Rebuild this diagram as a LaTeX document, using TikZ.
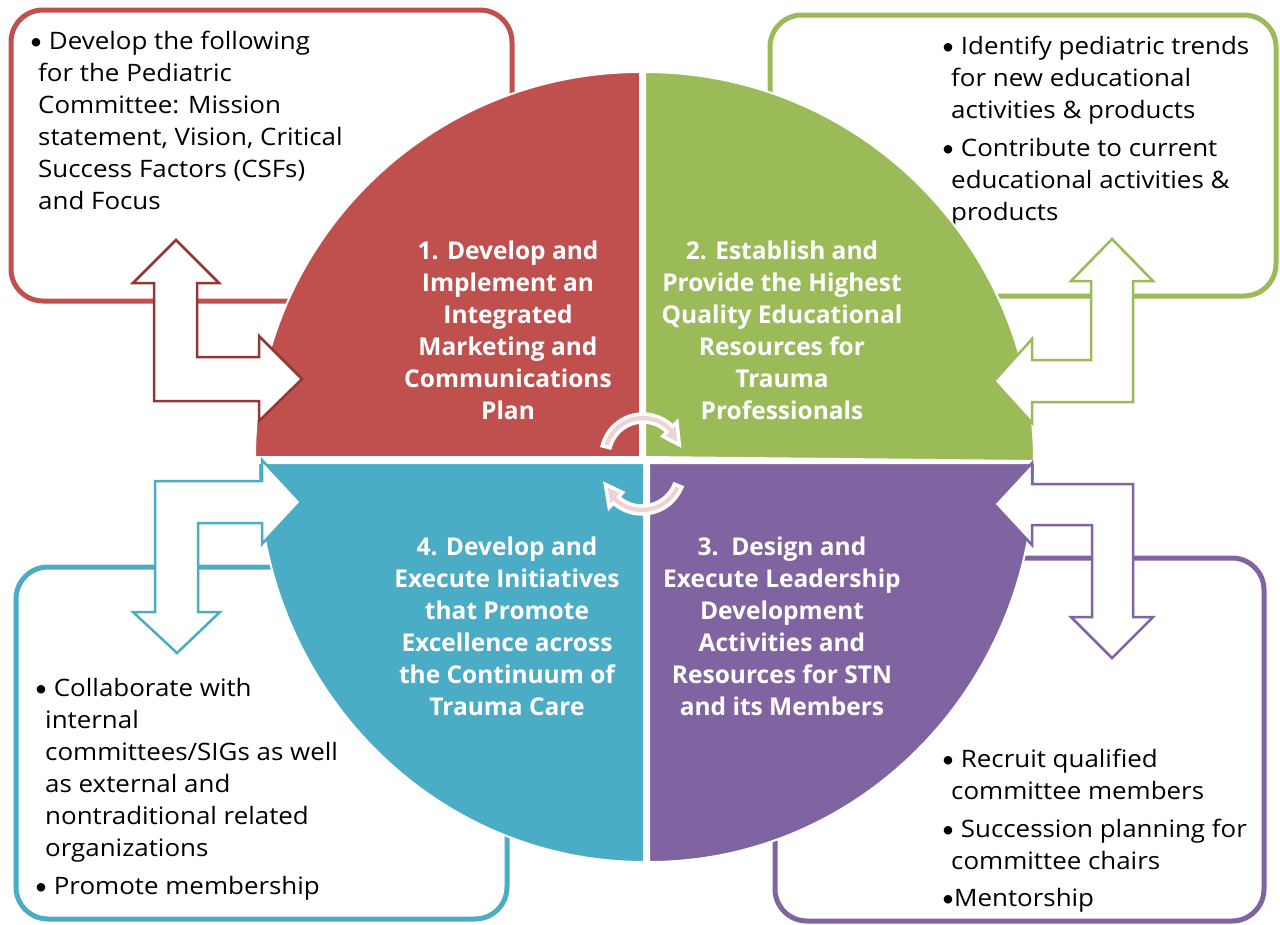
\documentclass[tikz,border=0pt]{standalone}
\usepackage{fontspec}
\setmainfont[FakeStretch=1.08]{Open Sans}
\newfontfamily\titlefont{Open Sans}
\newfontfamily\dotfont{Carlito}
\newcommand{\dotmark}{{\dotfont •}}
\usetikzlibrary{calc}
\definecolor{qred}{HTML}{C0504D}
\definecolor{qredline}{HTML}{943634}
\definecolor{qgreen}{HTML}{9BBB59}
\definecolor{qcyan}{HTML}{4BACC6}
\definecolor{qpurple}{HTML}{8064A2}
\definecolor{turnpink}{HTML}{EDD3D2}

\begin{document}
\begin{tikzpicture}[x=1pt,y=-1pt,
  box/.style={line width=5pt,rounded corners=32pt},
  quad/.style={draw=white,line width=2pt},
  bentarrow/.style={fill=white,line width=2.5pt,line join=miter},
  turnarrow/.style={fill=turnpink,draw=white,line width=3.5pt},
  boxtext/.style={anchor=north west,align=left,inner sep=0pt,
    font=\fontsize{24}{32}\selectfont},
  title/.style={anchor=north,align=center,inner sep=0pt,text=white,
    font=\titlefont\bfseries\fontsize{24.5}{32}\selectfont}]
\useasboundingbox[fill=white] (0,0) rectangle (1280,924);

% outer boxes
\draw[box,qred] (11,10) rectangle (512,301);
\draw[box,qgreen] (770,15) rectangle (1276,296);
\draw[box,qcyan] (16,567) rectangle (507,919);
\draw[box,qpurple] (775,558) rectangle (1264,921);

\node[boxtext] (t1) at (30,31) {\dotmark\ Develop the following\\
  \hspace*{8pt}for the Pediatric\\
  \hspace*{8pt}Committee: Mission\\
  \hspace*{8pt}statement, Vision, Critical\\
  \hspace*{8pt}Success Factors (CSFs)\\
  \hspace*{8pt}and Focus};
\node[boxtext] (t2) at (942,36) {\dotmark\ Identify pediatric trends\\
  \hspace*{9pt}for new educational\\
  \hspace*{9pt}activities \& products\\[6pt]
  \dotmark\ Contribute to current\\
  \hspace*{9pt}educational activities \&\\
  \hspace*{9pt}products};
\node[boxtext] (t4) at (35,678) {\dotmark\ Collaborate with\\
  \hspace*{10pt}internal\\
  \hspace*{10pt}committees/SIGs as well\\
  \hspace*{10pt}as external and\\
  \hspace*{10pt}nontraditional related\\
  \hspace*{10pt}organizations\\[6pt]
  \dotmark\ Promote membership};
\node[boxtext] (t3) at (942,749) {\dotmark\ Recruit qualified\\
  \hspace*{9pt}committee members\\[6pt]
  \dotmark\ Succession planning for\\
  \hspace*{9pt}committee chairs\\[5pt]
  \dotmark Mentorship};

% quadrants
\path[fill=qred,quad] (640,457) -- (255,457) arc[start angle=180,end angle=270,radius=385] -- cycle;
\path[fill=qgreen,quad] (645,457) -- (645,72) arc[start angle=270,end angle=360,radius=389] -- cycle;
\path[fill=qcyan,quad] (644,463) -- (644,862) arc[start angle=90,end angle=180,x radius=386,y radius=399] -- cycle;
\path[fill=qpurple,quad] (649,463) -- (1035,463) arc[start angle=0,end angle=90,x radius=386,y radius=399] -- cycle;

\node[title] (q1) at (508,241) {1. Develop and\\Implement an\\Integrated\\Marketing and\\Communications\\Plan};
\node[title] (q2) at (782,241) {2. Establish and\\Provide the Highest\\Quality Educational\\Resources for\\Trauma\\Professionals};
\node[title] (q4) at (507,537) {4. Develop and\\Execute Initiatives\\that Promote\\Excellence across\\the Continuum of\\Trauma Care};
\node[title] (q3) at (782,537) {3.\ \ Design and\\Execute Leadership\\Development\\Activities and\\Resources for STN\\and its Members};

% bent arrows
\draw[bentarrow,draw=qredline] (176,240) -- (219,283) -- (197,283) -- (197,357) -- (259,357) -- (259,336)
  -- (302,379) -- (259,421) -- (259,401) -- (154,401) -- (154,283) -- (133,283) -- cycle;
\draw[bentarrow,draw=qgreen] (1112,239) -- (1153,281) -- (1133,281) -- (1133,402) -- (1032,402) -- (1032,423)
  -- (994,381) -- (1032,339) -- (1032,360) -- (1091,360) -- (1091,281) -- (1071,281) -- cycle;
\draw[bentarrow,draw=qcyan] (301,502) -- (262,544) -- (262,523) -- (198,523) -- (198,612) -- (220,612)
  -- (177,653) -- (133,612) -- (155,612) -- (155,481) -- (262,481) -- (262,460) -- cycle;
\draw[bentarrow,draw=qpurple] (994,504) -- (1032,463) -- (1032,484) -- (1133,484) -- (1133,617) -- (1153,617)
  -- (1112,658) -- (1071,617) -- (1092,617) -- (1092,525) -- (1032,525) -- (1032,545) -- cycle;

% turning arrows in the middle
\coordinate (c1) at (643,456);
\coordinate (c2) at (642,471);
\path[turnarrow] ($(c1)+(194:42)$) arc[start angle=194,end angle=315,radius=42] -- ($(c1)+(315:48)$)
  -- ($(c1)+(343:38)$) -- ($(c1)+(315:28)$) -- ($(c1)+(315:34)$)
  arc[start angle=315,end angle=194,radius=34] -- cycle;
\path[turnarrow] ($(c2)+(22:43)$) arc[start angle=22,end angle=132,radius=43] -- ($(c2)+(132:49)$)
  -- ($(c2)+(160:39)$) -- ($(c2)+(132:29)$) -- ($(c2)+(132:35)$)
  arc[start angle=132,end angle=22,radius=35] -- cycle;
\end{tikzpicture}
\end{document}
